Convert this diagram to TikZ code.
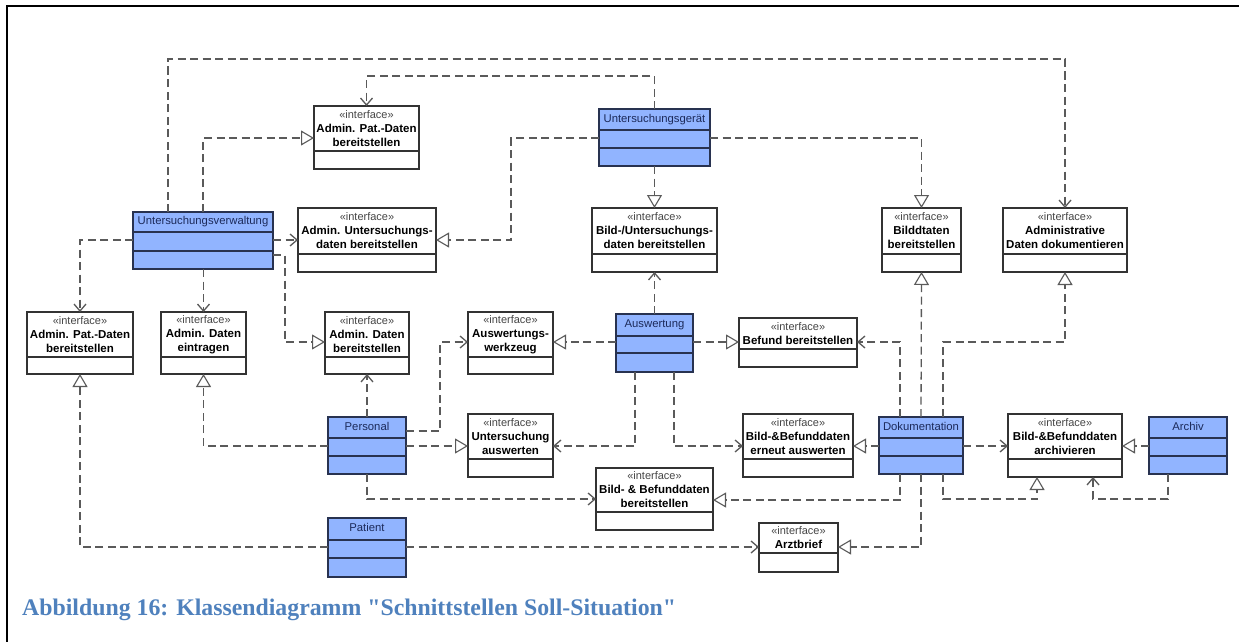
\documentclass[tikz,border=0pt]{standalone}
\usepackage{fontspec}
\setmainfont{Liberation Sans}
\newfontfamily\captionserif{Liberation Serif}
\usetikzlibrary{arrows.meta}

\definecolor{clsfill}{RGB}{145,180,255}
\definecolor{clsname}{RGB}{28,42,90}
\definecolor{clsedge}{RGB}{40,50,80}
\definecolor{linegray}{RGB}{90,90,90}
\definecolor{stereogray}{RGB}{70,70,70}
\definecolor{capblue}{RGB}{79,129,189}

\tikzset{
  box/.style={line width=1.1pt, inner sep=0pt, outer sep=0pt, anchor=north west},
  ifbox/.style={box, draw=black!80, fill=white},
  clsbox/.style={box, draw=clsedge, fill=clsfill},
  divider/.style={line width=1.1pt},
  iftext/.style={align=center, inner sep=0pt, font=\fontsize{11.5}{14}\selectfont\bfseries},
  clstext/.style={inner sep=0pt, text=clsname, text height=8.2pt, text depth=2.3pt,
                  font=\fontsize{11.3}{14}\selectfont},
  conn/.style={draw=linegray, line width=1.3pt, dash pattern=on 8pt off 4.5pt},
  dep/.style={conn, -{Straight Barb[length=7pt,width=12pt]}},
  real/.style={conn, -{Triangle[open,fill=white,length=13pt,width=15pt,line width=1.1pt]}},
}

% stereotype line of an interface box
\newcommand\stereo{{\mdseries\fontsize{11}{14}\selectfont\color{stereogray}«interface»}}

% interface box: name, x1, y1, x2, divider y, y2, title lines
\newcommand\iface[7]{%
  \node[ifbox, minimum width={(#4-#2)*1pt}, minimum height={(#6-#3)*1pt}] (#1) at (#2,#3) {};
  \draw[divider, draw=black!80] (#2,#5) -- (#4,#5);
  \node[iftext] (#1-t) at ({(#2+#4)/2},{(#3+#5)/2}) {\stereo\\#7};
}

% class box: name, x1, y1, x2, divider 1, divider 2, y2, class name
\newcommand\klasse[8]{%
  \node[clsbox, minimum width={(#4-#2)*1pt}, minimum height={(#7-#3)*1pt}] (#1) at (#2,#3) {};
  \draw[divider, draw=clsedge] (#2,#5) -- (#4,#5) (#2,#6) -- (#4,#6);
  \node[clstext] (#1-t) at ({(#2+#4)/2},{(#3+#5)/2}) {#8};
}

\begin{document}
\begin{tikzpicture}[x=1pt,y=-1pt]
\useasboundingbox (0,0) rectangle (1239,642);
\fill[white] (0,0) rectangle (1239,642);

% page frame
\draw[line width=2pt] (7,642) -- (7,6) -- (1239,6);

% interfaces
\iface{ifPatTop}{314}{106}{419}{151}{169}{Admin. Pat.-Daten\\bereitstellen}
\iface{ifUD}{298}{208}{436}{254}{272}{Admin. Untersuchungs-\\daten bereitstellen}
\iface{ifBU}{592}{208}{717}{254}{272}{Bild-/Untersuchungs-\\daten bereitstellen}
\iface{ifBild}{882}{208}{961}{254}{272}{Bilddtaten\\bereitstellen}
\iface{ifAdmDok}{1003}{208}{1127}{254}{272}{Administrative\\Daten dokumentieren}
\iface{ifPatL}{27}{312}{133}{357}{374}{Admin. Pat.-Daten\\bereitstellen}
\iface{ifEin}{161}{312}{246}{357}{374}{Admin. Daten\\eintragen}
\iface{ifDB}{325}{312}{409}{357}{374}{Admin. Daten\\bereitstellen}
\iface{ifWz}{468}{312}{553}{357}{374}{Auswertungs-\\werkzeug}
\iface{ifBef}{739}{318}{857}{349}{367}{Befund bereitstellen}
\iface{ifUA}{468}{414}{553}{459}{477}{Untersuchung\\auswerten}
\iface{ifErn}{743}{414}{853}{459}{477}{Bild-\&Befunddaten\\erneut auswerten}
\iface{ifArc}{1008}{414}{1122}{459}{477}{Bild-\&Befunddaten\\archivieren}
\iface{ifBBB}{596}{468}{713}{512}{530}{Bild- \& Befunddaten\\bereitstellen}
\iface{ifArzt}{759}{523}{838}{553}{572}{Arztbrief}

% classes
\klasse{uv}{133}{212}{273}{232}{251}{269}{Untersuchungsverwaltung}
\klasse{ug}{599}{109}{710}{130}{148}{166}{Untersuchungsgerät}
\klasse{ausw}{616}{314}{693}{336}{353}{372}{Auswertung}
\klasse{pers}{328}{417}{406}{438}{456}{474}{Personal}
\klasse{dok}{879}{417}{963}{438}{456}{474}{Dokumentation}
\klasse{arch}{1149}{417}{1227}{438}{456}{474}{Archiv}
\klasse{pat}{328}{518}{406}{540}{558}{577}{Patient}

% Untersuchungsverwaltung
\draw[dep]  (uv.north -| 168,0) -- (168,59) -- (1065,59) -- (ifAdmDok.north);
\draw[real] (uv.north -| 203,0) -- (203,138) -- (ifPatTop.west |- 0,138);
\draw[dep]  (uv.east |- 0,240) -- (ifUD.west |- 0,240);
\draw[dep]  (uv.west |- 0,240) -- (ifPatL.north |- 0,240) -- (ifPatL.north);
\draw[dep]  (uv.south -| ifEin.north) -- (ifEin.north);
\draw[real] (uv.east |- 0,255) -- (285,255) -- (285,342) -- (ifDB.west |- 0,342);

% Untersuchungsgeraet
\draw[dep]  (ug.north) -- (ug.north |- 0,76) -- (ifPatTop.north |- 0,76) -- (ifPatTop.north);
\draw[real] (ug.west |- 0,138) -- (511,138) -- (511,240) -- (ifUD.east |- 0,240);
\draw[real] (ug.south) -- (ifBU.north);
\draw[real] (ug.east |- 0,138) -- (ifBild.north |- 0,138) -- (ifBild.north);

% Personal
\draw[dep]  (pers.north) -- (ifDB.south);
\draw[real] (pers.west |- 0,446) -- (ifEin.south |- 0,446) -- (ifEin.south);
\draw[dep]  (pers.east |- 0,431) -- (440,431) -- (440,342) -- (ifWz.west |- 0,342);
\draw[real] (pers.east |- 0,446) -- (ifUA.west |- 0,446);
\draw[dep]  (pers.south) -- (pers.south |- 0,499) -- (ifBBB.west |- 0,499);

% Auswertung
\draw[dep]  (ausw.north) -- (ifBU.south);
\draw[real] (ausw.west |- 0,342) -- (ifWz.east |- 0,342);
\draw[real] (ausw.east |- 0,342) -- (ifBef.west |- 0,342);
\draw[dep]  (ausw.south -| 635,0) -- (635,446) -- (ifUA.east |- 0,446);
\draw[dep]  (ausw.south -| 674,0) -- (674,446) -- (ifErn.west |- 0,446);

% Dokumentation
\draw[dep]  (dok.north -| 900,0) -- (900,342) -- (ifBef.east |- 0,342);
\draw[real] (dok.north) -- (ifBild.south);
\draw[real] (dok.north -| 943,0) -- (943,342) -- (1065,342) -- (ifAdmDok.south);
\draw[real] (dok.west |- 0,446) -- (ifErn.east |- 0,446);
\draw[dep]  (dok.east |- 0,446) -- (ifArc.west |- 0,446);
\draw[real] (dok.south -| 943,0) -- (943,499) -- (1037,499) -- (ifArc.south -| 1037,0);
\draw[real] (dok.south -| 900,0) -- (900,500) -- (ifBBB.east |- 0,500);
\draw[real] (dok.south) -- (dok.south |- 0,547) -- (ifArzt.east |- 0,547);

% Archiv
\draw[real] (arch.west |- 0,446) -- (ifArc.east |- 0,446);
\draw[dep]  (arch.south -| 1168,0) -- (1168,499) -- (1093,499) -- (ifArc.south -| 1093,0);

% Patient
\draw[dep]  (pat.east |- 0,547) -- (ifArzt.west |- 0,547);
\draw[real] (pat.west |- 0,547) -- (80,547) -- (ifPatL.south);

% caption
\node[anchor=base west, inner sep=0pt, text=capblue,
      font=\captionserif\bfseries\fontsize{23.8}{28}\selectfont] (caption) at (22,615)
  {Abbildung 16: Klassendiagramm "Schnittstellen Soll-Situation"};
\end{tikzpicture}
\end{document}
